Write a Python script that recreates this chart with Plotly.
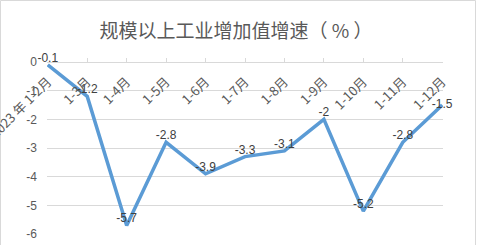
import plotly.graph_objects as go

categories = ["2023 年 1-2月", "1-3月", "1-4月", "1-5月", "1-6月", "1-7月",
              "1-8月", "1-9月", "1-10月", "1-11月", "1-12月"]
values = [-0.1, -1.2, -5.7, -2.8, -3.9, -3.3, -3.1, -2, -5.2, -2.8, -1.5]
label_pos = ["top center"] * 10 + ["middle center"]
y_ticks = [0, -1, -2, -3, -4, -5, -6]

W, H = 480, 245
ML, MR, MT, MB = 47, 37, 62, 11
PW, PH = W - ML - MR, H - MT - MB

def px_x(p):
    return (p - ML) / PW

def px_y(p):
    return 1 - (p - MT) / PH

font_main = "Liberation Sans, Noto Sans CJK SC, sans-serif"

fig = go.Figure()
fig.add_trace(go.Scatter(
    x=list(range(len(categories))), y=values,
    mode="lines+text",
    line=dict(color="#5b9bd5", width=3.5),
    text=[str(v) for v in values],
    textposition=label_pos,
    textfont=dict(family=font_main, size=12, color="#404040"),
    cliponaxis=False,
    hoverinfo="skip",
))

fig.update_layout(
    width=W, height=H,
    margin=dict(l=ML, r=MR, t=MT, b=MB, autoexpand=False),
    paper_bgcolor="white", plot_bgcolor="white",
    showlegend=False,
    title=dict(text="规模以上工业增加值增速（ % ）", x=236 / W, xanchor="center",
               y=1 - 31 / H, yanchor="middle",
               font=dict(family="Noto Sans CJK SC, sans-serif", size=19, color="#595959")),
    xaxis=dict(
        tickmode="array", tickvals=list(range(len(categories))), ticktext=categories,
        range=[-0.02, len(categories) - 1 + 0.02],
        side="bottom", anchor="free", position=1, automargin=False,
        showline=True, linecolor="#d9d9d9", linewidth=1,
        ticks="inside", ticklen=4, tickcolor="#d9d9d9",
        tickangle=-45, ticklabeloverflow="allow", ticklabelstandoff=6,
        tickfont=dict(family="Noto Sans CJK SC, sans-serif", size=13, color="#595959"),
        showgrid=False, zeroline=False,
    ),
    yaxis=dict(
        range=[-6, 0], tickvals=y_ticks, ticktext=[str(t) for t in y_ticks],
        showgrid=True, gridcolor="#d9d9d9", gridwidth=1,
        zeroline=False, showline=False, automargin=False,
        ticks="", ticklabelstandoff=9,
        tickfont=dict(family=font_main, size=12, color="#595959"),
    ),
    shapes=[dict(type="rect", xref="paper", yref="paper",
                 x0=px_x(0.5), x1=px_x(475.5), y0=px_y(260), y1=px_y(0.5),
                 line=dict(color="#d9d9d9", width=1), layer="below")],
)

fig.write_html("out.html")
